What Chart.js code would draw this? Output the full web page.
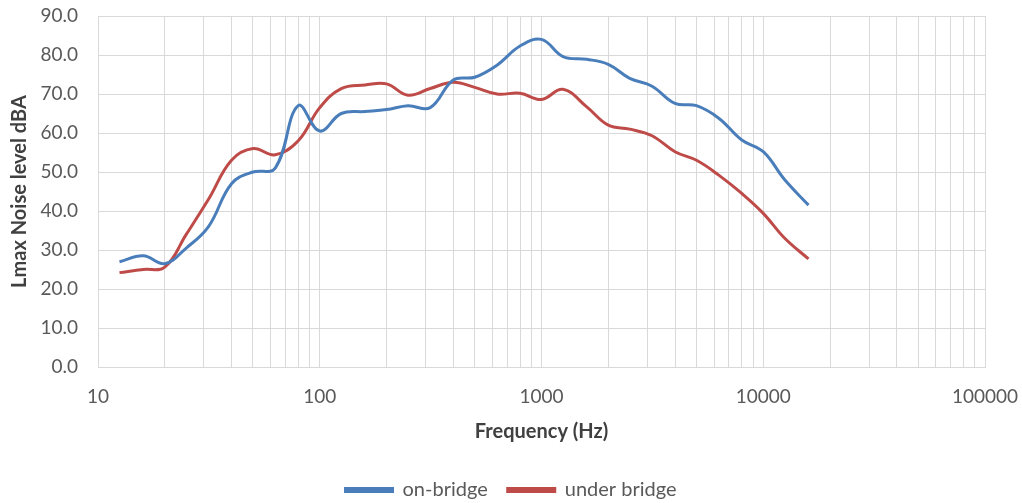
<!DOCTYPE html>
<html>
<head>
<meta charset="utf-8">
<script src="https://cdn.jsdelivr.net/npm/chart.js@4.4.1/dist/chart.umd.min.js"></script>
<style>
html,body{margin:0;padding:0;background:#fff;}
#wrap{width:1022px;height:503px;position:relative;}
</style>
</head>
<body>
<div id="wrap"><canvas id="c" width="1022" height="503"></canvas></div>
<script>
const frequencies = [12.5,16,20,25,31.5,40,50,63,80,100,125,160,200,250,315,400,500,630,800,1000,1250,1600,2000,2500,3150,4000,5000,6300,8000,10000,12500,16000];
const onBridge =    [27.0,28.5,26.5,30.5,36.0,47.0,50.0,51.0,67.0,60.5,65.0,65.5,66.0,67.0,66.5,73.6,74.3,77.4,82.3,84.0,79.6,78.9,77.6,74.0,72.0,67.6,67.0,63.8,58.2,55.2,48.0,41.5];
const underBridge = [24.2,25.0,25.6,34.0,43.0,53.0,56.0,54.4,58.0,66.5,71.4,72.3,72.6,69.7,71.4,73.0,71.7,70.0,70.2,68.6,71.2,66.7,62.0,61.0,59.3,55.2,53.0,49.2,44.5,39.4,33.0,27.7];
const xGridValues = [10,20,30,40,50,60,70,80,90,100,200,300,400,500,600,700,800,900,1000,2000,3000,4000,5000,6000,7000,8000,9000,10000,20000,30000,40000,50000,60000,70000,80000,90000,100000];
const xTickLabels = ['10','100','1000','10000','100000'];
const yTicks = [0,10,20,30,40,50,60,70,80,90];

const gridColor = '#d9d9d9';
const textColor = '#595959';
const FONT = 'Lato';

function noPad(s){ s.paddingTop = 0; s.paddingBottom = 0; s.paddingLeft = 0; s.paddingRight = 0; }

new Chart(document.getElementById('c'), {
  type: 'line',
  data: {
    datasets: [
      {label:'on-bridge', data: frequencies.map((f,i)=>({x:f,y:onBridge[i]})), borderColor:'#4a7ebb', backgroundColor:'#4a7ebb', borderWidth:3, pointRadius:0, tension:0.4},
      {label:'under bridge', data: frequencies.map((f,i)=>({x:f,y:underBridge[i]})), borderColor:'#be4b48', backgroundColor:'#be4b48', borderWidth:3, pointRadius:0, tension:0.4}
    ]
  },
  options: {
    responsive:false,
    animation:false,
    layout:{padding:{left:0,right:0,top:16,bottom:-7}},
    plugins:{
      tooltip:{enabled:false},
      legend:{
        position:'bottom',
        labels:{boxWidth:47,boxHeight:3,color:textColor,font:{family:FONT,size:20},padding:20}
      }
    },
    scales:{
      x:{
        type:'logarithmic',
        min:10,max:100000,
        afterBuildTicks:(s)=>{ s.ticks = xGridValues.map(v=>({value:v})); },
        afterFit:(s)=>{ s.height = 93; noPad(s); },
        grid:{color:gridColor,lineWidth:1,drawTicks:false},
        border:{color:gridColor},
        ticks:{
          autoSkip:false,maxRotation:0,padding:18,color:textColor,font:{family:FONT,size:19},
          callback:(v)=>{ const s=String(v); return xTickLabels.includes(s)?s:''; }
        },
        title:{display:true,text:'Frequency (Hz)',color:'#404040',font:{family:FONT,size:20,weight:'bold'},padding:{top:0,bottom:16}}
      },
      y:{
        min:0,max:90,
        afterBuildTicks:(s)=>{ s.ticks = yTicks.map(v=>({value:v})); },
        afterFit:(s)=>{ s.width = 98; noPad(s); },
        grid:{color:gridColor,lineWidth:1,drawTicks:false},
        border:{color:gridColor},
        ticks:{padding:20,color:textColor,font:{family:FONT,size:19},callback:(v)=>Number(v).toFixed(1)},
        title:{display:true,text:'Lmax Noise level dBA',color:'#404040',font:{family:FONT,size:20,weight:'bold'},padding:{top:8,bottom:0}}
      },
      yRight:{
        position:'right',
        min:0,max:90,
        afterFit:(s)=>{ s.width = 37; noPad(s); },
        grid:{display:false,drawTicks:false},
        border:{display:false},
        ticks:{display:false}
      }
    }
  }
});
</script>
</body>
</html>
